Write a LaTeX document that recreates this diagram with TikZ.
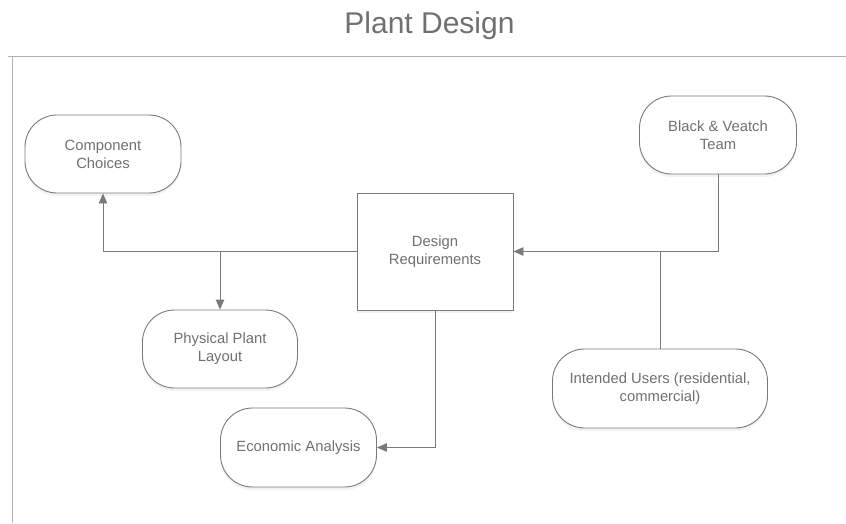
\documentclass[tikz,border=0pt]{standalone}
\usepackage{fontspec}
\setmainfont{Liberation Sans}
\usetikzlibrary{arrows.meta,shadows}
\definecolor{txt}{HTML}{707070}
\definecolor{ln}{HTML}{7A7A7A}
\definecolor{frm}{HTML}{B0B0B0}
\tikzset{
  box/.style={draw=ln, line width=0.9pt, fill=white, text=txt, align=center,
    font=\fontsize{14.8}{18}\selectfont, inner sep=2pt,
    drop shadow={shadow xshift=0pt, shadow yshift=-3pt, opacity=0.10}},
  pill/.style={box, rounded corners=32pt},
  arr/.style={draw=ln, line width=0.9pt, -{Triangle[length=10pt,width=8.5pt]}},
  conn/.style={draw=ln, line width=0.9pt},
  frameline/.style={draw=frm, line width=1pt}
}
\begin{document}
\begin{tikzpicture}[x=1pt,y=-1pt]
\useasboundingbox (0,0) rectangle (846,523);
\node[text=txt, font=\fontsize{30}{34}\selectfont] (title) at (429.5,25.5) {Plant Design};
\coordinate (f0) at (8,56.5);
\coordinate (f1) at (846,56.5);
\coordinate (f2) at (12.5,56.5);
\coordinate (f3) at (12.5,523);
\draw[frameline] (f0) -- (f1);
\draw[frameline] (f2) -- (f3);

\node[pill, minimum width=156pt, minimum height=78pt] (cc) at (103,154) {Component\\Choices};
\node[pill, minimum width=157pt, minimum height=78pt] (bv) at (718,135) {Black \& Veatch\\Team};
\node[box, minimum width=156pt, minimum height=117pt] (dr) at (435,251.5) {Design\\Requirements};
\node[pill, minimum width=155pt, minimum height=78pt] (ppl) at (220,349) {Physical Plant\\Layout};
\node[pill, minimum width=215pt, minimum height=79pt] (iu) at (660,388.5) {Intended Users (residential,\\commercial)};
\node[pill, minimum width=156pt, minimum height=79pt] (ea) at (298.5,447.5) {Economic Analysis};

\coordinate (j1) at (ppl.north |- dr.west);
\coordinate (j2) at (iu.north |- dr.east);
\draw[arr] (dr.west) -| (cc.south);
\draw[arr] (j1) -- (ppl.north);
\draw[arr] (bv.south) |- (dr.east);
\draw[conn] (iu.north) -- (j2);
\draw[arr] (dr.south) |- (ea.east);
\end{tikzpicture}
\end{document}
